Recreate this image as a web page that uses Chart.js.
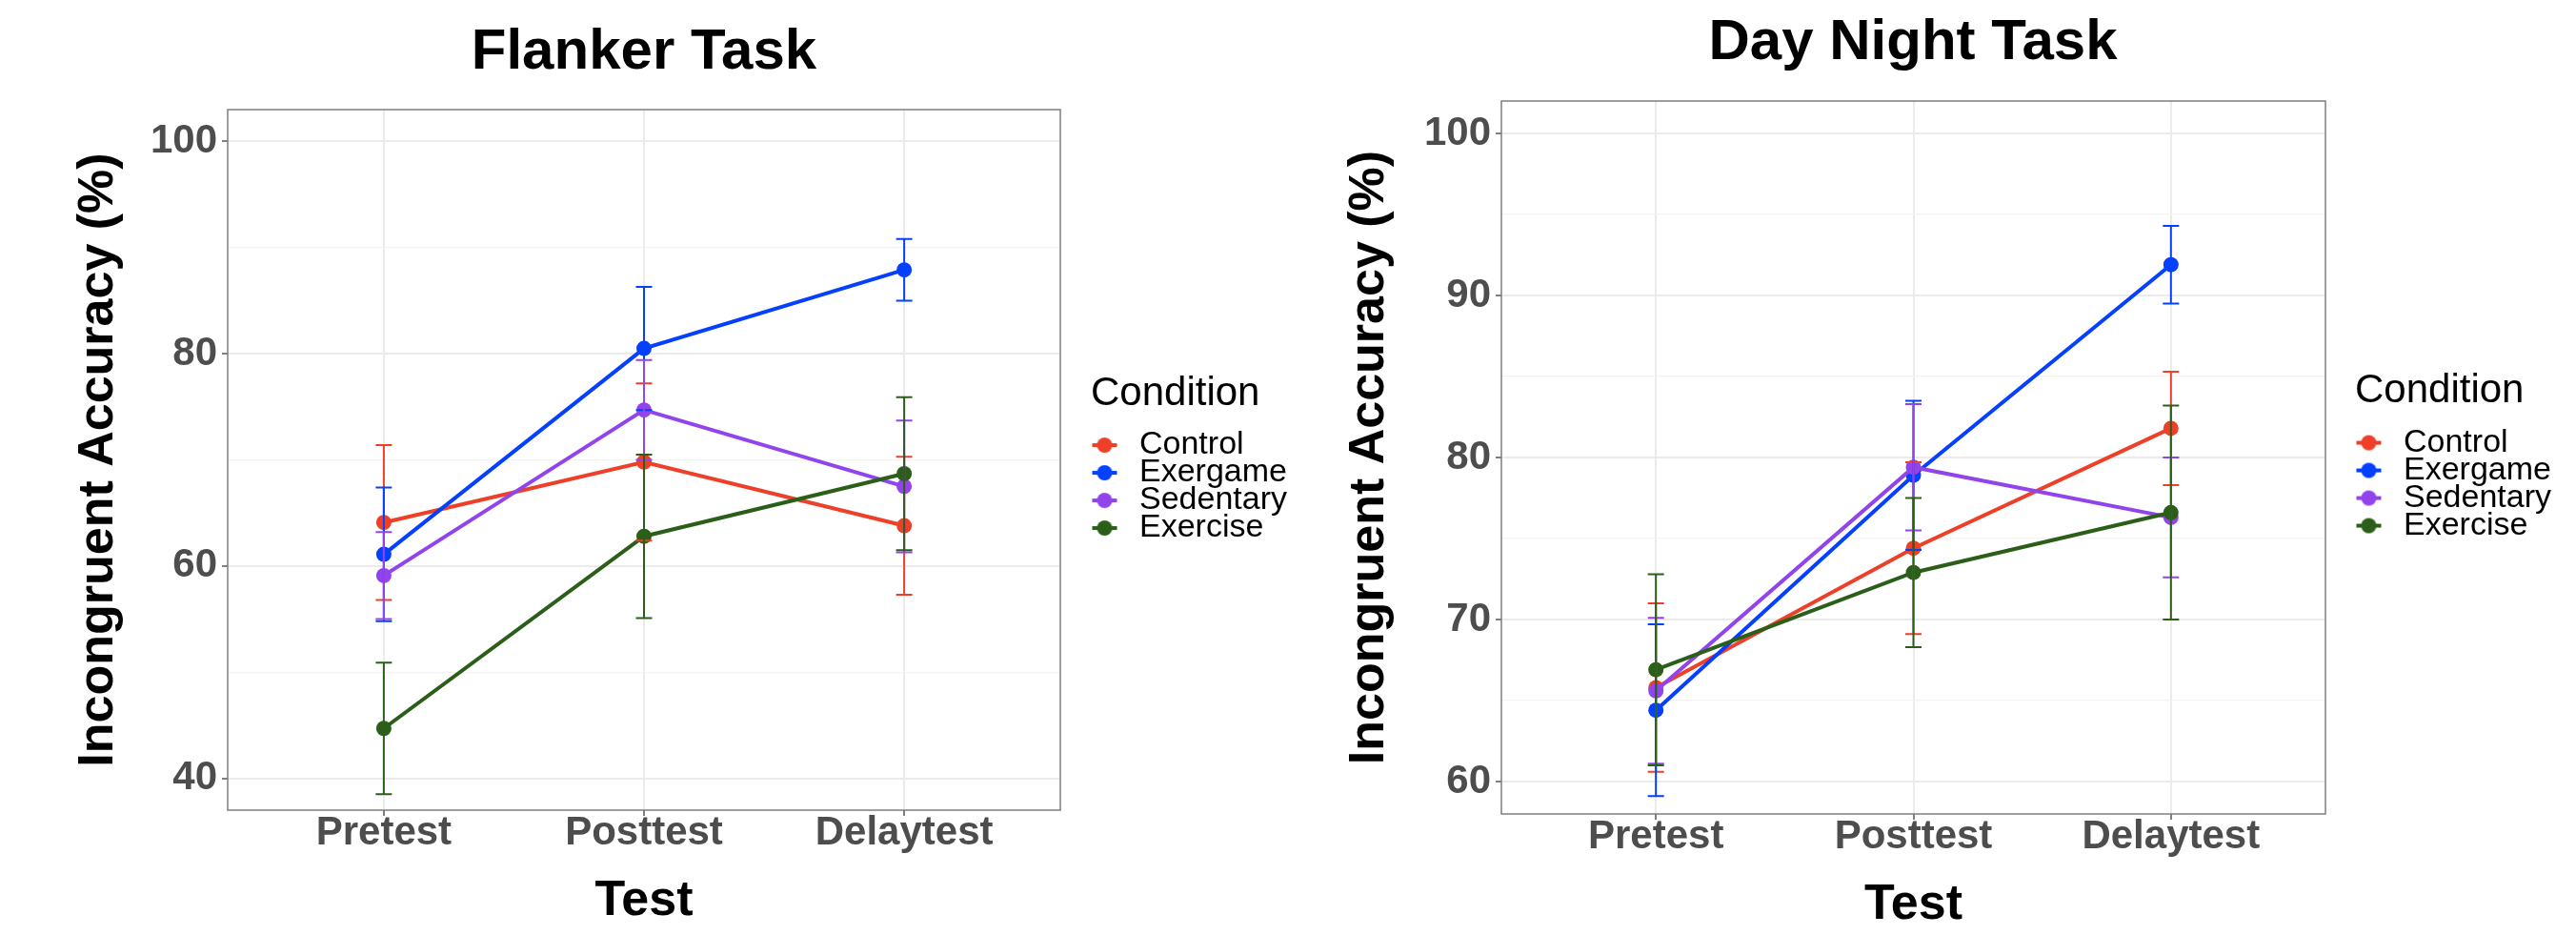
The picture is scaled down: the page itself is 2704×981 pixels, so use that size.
<!DOCTYPE html>
<html>
<head>
<meta charset="utf-8">
<title>Flanker / Day Night Task</title>
<script src="https://cdn.jsdelivr.net/npm/chart.js@4.4.1/dist/chart.umd.min.js"></script>
<style>
  html, body { margin: 0; padding: 0; background: #fff; width: 2704px; height: 981px; overflow: hidden; }
  .box { position: absolute; top: 0; height: 981px; }
  #boxFlanker { left: -10px; width: 1372px; }
  #boxDayNight { left: 1312px; width: 1392px; }
</style>
</head>
<body>
<div class="box" id="boxFlanker"><canvas id="flankerChart"></canvas></div>
<div class="box" id="boxDayNight"><canvas id="dayNightChart"></canvas></div>
<script>
// --- data
const conditions = ["Control", "Exergame", "Sedentary", "Exercise"];
const conditionColors = ["#EE4028", "#0540FF", "#9244EC", "#2B5E18"];
const testLabels = ["Pretest", "Posttest", "Delaytest"];

// Flanker task: means and error bar half-widths (Pretest, Posttest, Delaytest)
const flankerControl = [64.1, 69.8, 63.8];
const flankerExergame = [61.1, 80.5, 87.9];
const flankerSedentary = [59.1, 74.7, 67.5];
const flankerExercise = [44.7, 62.8, 68.7];
const flankerControlErr = [7.3, 7.4, 6.5];
const flankerExergameErr = [6.3, 5.8, 2.9];
const flankerSedentaryErr = [4.1, 4.7, 6.2];
const flankerExerciseErr = [6.2, 7.7, 7.2];
const flankerGridTicks = [40, 50, 60, 70, 80, 90, 100];
const flankerTickLabels = [40, 60, 80, 100];

// Day night task
const dayNightControl = [65.8, 74.4, 81.8];
const dayNightExergame = [64.4, 78.9, 91.9];
const dayNightSedentary = [65.6, 79.4, 76.3];
const dayNightExercise = [66.9, 72.9, 76.6];
const dayNightControlErr = [5.2, 5.3, 3.5];
const dayNightExergameErr = [5.3, 4.6, 2.4];
const dayNightSedentaryErr = [4.5, 3.9, 3.7];
const dayNightExerciseErr = [5.9, 4.6, 6.6];
const dayNightGridTicks = [60, 65, 70, 75, 80, 85, 90, 95, 100];
const dayNightTickLabels = [60, 70, 80, 90, 100];

Chart.defaults.font.family = "'Liberation Sans', Arial, Helvetica, sans-serif";

// --- error bars, drawn through the chart scales
const errorBarPlugin = {
  id: 'errorBars',
  afterDatasetsDraw(chart) {
    const { ctx, scales: { x, y } } = chart;
    chart.data.datasets.forEach(ds => {
      if (!ds.errors) return;
      ctx.save();
      ctx.strokeStyle = ds.borderColor;
      ctx.lineWidth = 2;
      ds.data.forEach((pt, j) => {
        const px = x.getPixelForValue(pt.x);
        const top = y.getPixelForValue(pt.y + ds.errors[j]);
        const bot = y.getPixelForValue(pt.y - ds.errors[j]);
        ctx.beginPath();
        ctx.moveTo(px, top); ctx.lineTo(px, bot);
        ctx.moveTo(px - 8.5, top); ctx.lineTo(px + 8.5, top);
        ctx.moveTo(px - 8.5, bot); ctx.lineTo(px + 8.5, bot);
        ctx.stroke();
      });
      ctx.restore();
    });
  }
};

// --- panel frame round the plot area
const panelBorderPlugin = {
  id: 'panelBorder',
  afterDraw(chart) {
    const { ctx, chartArea: { left, top, width, height } } = chart;
    ctx.save();
    ctx.strokeStyle = '#7F7F7F';
    ctx.lineWidth = 1.5;
    ctx.strokeRect(left, top, width, height);
    ctx.restore();
  }
};

// --- keep the legend box at a fixed width
function fixedLegendWidth(width) {
  return {
    id: 'fixedLegendWidth',
    beforeLayout(chart) {
      const legend = chart.legend;
      if (!legend || legend._fixedFit) return;
      const fit = legend.fit;
      legend.fit = function () { fit.call(this); this.width = width; };
      legend._fixedFit = true;
    }
  };
}

// legend key: short line with a dot, like the plotted marks
function legendKey(color) {
  const c = document.createElement('canvas');
  c.width = 28; c.height = 18;
  const g = c.getContext('2d');
  g.strokeStyle = color; g.lineWidth = 4;
  g.beginPath(); g.moveTo(1, 9); g.lineTo(27, 9); g.stroke();
  g.fillStyle = color;
  g.beginPath(); g.arc(14, 9, 8, 0, Math.PI * 2); g.fill();
  return c;
}
const legendKeys = conditionColors.map(legendKey);

const toPoints = values => values.map((v, i) => ({ x: i, y: v }));

function makeChart(canvasId, s) {
  const datasets = s.series.map((values, i) => ({
    label: conditions[i],
    data: toPoints(values),
    errors: s.errors[i],
    borderColor: conditionColors[i],
    backgroundColor: conditionColors[i],
    pointBackgroundColor: conditionColors[i],
    borderWidth: 4,
    pointRadius: 8,
    pointBorderWidth: 0,
    tension: 0,
    order: s.series.length - i,
    xAxisID: 'x',
    yAxisID: 'y'
  }));

  const isMajor = v => s.tickLabels.includes(v);

  return new Chart(document.getElementById(canvasId), {
    type: 'line',
    data: { datasets },
    options: {
      responsive: true, maintainAspectRatio: false, animation: false,
      layout: { padding: 0 },
      scales: {
        x: {
          type: 'linear', position: 'bottom', min: -0.6, max: 2.6,
          afterBuildTicks(sc) { sc.ticks = testLabels.map((_, i) => ({ value: i })); },
          afterFit(sc) { sc.height = s.xHeight; },
          ticks: {
            color: '#4D4D4D', font: { size: 42, weight: 'bold', lineHeight: 0.9 },
            padding: 0, maxRotation: 0, autoSkip: false,
            callback: (v, i) => testLabels[i]
          },
          grid: { color: '#EBEBEB', lineWidth: 2, tickLength: 6, tickColor: '#555', tickWidth: 1.5 },
          border: { display: false },
          title: { display: true, text: 'Test', color: '#000', font: { size: 52, weight: 'bold' }, padding: { top: 0, bottom: s.xTitlePad } }
        },
        y: {
          type: 'linear', position: 'left', min: s.yMin, max: s.yMax,
          afterBuildTicks(sc) { sc.ticks = s.gridTicks.map(v => ({ value: v })); },
          afterFit(sc) { sc.width = s.yWidth; },
          ticks: {
            color: '#4D4D4D', font: { size: 42, weight: 'bold' }, padding: 5, autoSkip: false,
            callback: v => isMajor(v) ? String(v) : ''
          },
          grid: {
            color: c => isMajor(c.tick.value) ? '#EBEBEB' : '#F3F3F3',
            lineWidth: c => isMajor(c.tick.value) ? 2 : 1.3,
            tickLength: 6,
            tickColor: c => isMajor(c.tick.value) ? '#555' : 'rgba(0,0,0,0)',
            tickWidth: 1.5
          },
          border: { display: false },
          title: { display: true, text: 'Incongruent Accuracy (%)', color: '#000', font: { size: 52, weight: 'bold' }, padding: { top: s.yTitlePad, bottom: 0 } }
        },
        // empty gap between the panel and the legend
        gap: {
          type: 'linear', position: 'right', display: true,
          grid: { display: false }, border: { display: false }, ticks: { display: false },
          afterFit(sc) { sc.width = s.gapWidth; }
        }
      },
      plugins: {
        title: {
          display: true, text: s.title, color: '#000',
          font: { size: 60, weight: 'bold' },
          padding: { top: s.titlePadTop, bottom: s.titlePadBottom }
        },
        legend: {
          position: 'right', align: 'center', fullSize: false,
          title: { display: true, text: 'Condition', color: '#000', position: 'start', font: { size: 42, lineHeight: 1.667 }, padding: -7 },
          labels: {
            color: '#000', font: { size: 34 }, padding: -5,
            usePointStyle: true, pointStyleWidth: 39,
            sort: (a, b) => a.datasetIndex - b.datasetIndex,
            generateLabels(chart) {
              const items = Chart.defaults.plugins.legend.labels.generateLabels(chart);
              items.forEach(it => { it.pointStyle = legendKeys[it.datasetIndex]; });
              return items;
            }
          }
        },
        tooltip: { enabled: false }
      }
    },
    plugins: [errorBarPlugin, panelBorderPlugin, fixedLegendWidth(s.legendWidth)]
  });
}

window.addEventListener('load', () => {
  // Flanker task
  makeChart('flankerChart', {
    title: 'Flanker Task',
    series: [flankerControl, flankerExergame, flankerSedentary, flankerExercise],
    errors: [flankerControlErr, flankerExergameErr, flankerSedentaryErr, flankerExerciseErr],
    gridTicks: flankerGridTicks, tickLabels: flankerTickLabels,
    yMin: 37, yMax: 103,
    yWidth: 249, gapWidth: 32, legendWidth: 217, xHeight: 131,
    titlePadTop: 19, titlePadBottom: 24, xTitlePad: 4, yTitlePad: 82
  });

  // Day night task
  makeChart('dayNightChart', {
    title: 'Day Night Task',
    series: [dayNightControl, dayNightExergame, dayNightSedentary, dayNightExercise],
    errors: [dayNightControlErr, dayNightExergameErr, dayNightSedentaryErr, dayNightExerciseErr],
    gridTicks: dayNightGridTicks, tickLabels: dayNightTickLabels,
    yMin: 58, yMax: 102,
    yWidth: 264, gapWidth: 31, legendWidth: 232, xHeight: 127,
    titlePadTop: 9, titlePadBottom: 25, xTitlePad: 0, yTitlePad: 94
  });
});
</script>
</body>
</html>
